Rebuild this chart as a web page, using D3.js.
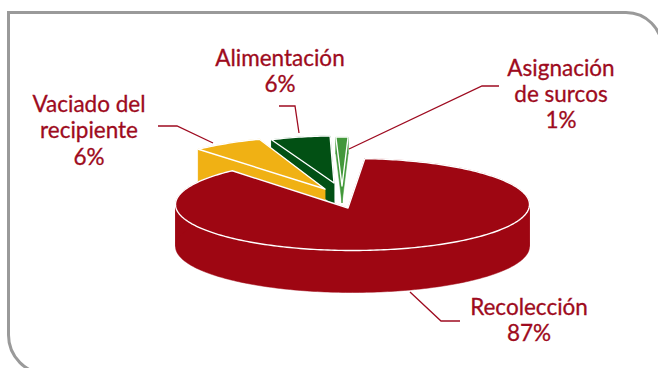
<!DOCTYPE html>
<html>
<head>
<meta charset="utf-8">
<script src="https://cdn.jsdelivr.net/npm/d3@7"></script>
<style>
  html, body { margin: 0; padding: 0; background: #fff; }
  svg { display: block; }
  text { font-family: "Lato", sans-serif; font-size: 22.5px; fill: #9E0B20; stroke: #9E0B20; stroke-width: 0.3px; text-anchor: middle; }
</style>
</head>
<body>
<svg id="chart" width="658" height="368"></svg>
<script>
// Share of working time per task
const categories = ["Recolección", "Vaciado del recipiente", "Alimentación", "Asignación de surcos"];
const shares = [87, 6, 6, 1];
const colors = ["#9E0612", "#F0B114", "#025014", "#43983B"];

// Each exploded wedge: ellipse centre, inner point, ellipse radii, rotation in degrees, wall height
const centerX = [352.5, 325, 334, 343];
const centerY = [204.5, 188, 183, 186];
const apexX = [348, 325, 334, 342];
const apexY = [208, 189, 183, 186];
const wedgeRx = [177, 190, 160, 195];
const wedgeRy = [46, 52, 47, 49];
const wedgeTurn = [0, 1, -1.8, -2.5];
const depth = [42, 42, 22, 17];
const drawOrder = [2, 3, 1, 0];

// Text blocks: lines, centre x and baselines
const labelLines = [
  ["Recolección", "87%"],
  ["Vaciado del", "recipiente", "6%"],
  ["Alimentación", "6%"],
  ["Asignación", "de surcos", "1%"]
];
const labelX = [529, 89, 280, 561];
const labelBase = [[315, 341], [112, 138, 165], [66, 92], [76, 102, 128]];
const leaders = [
  [[410, 292], [441, 321], [460, 321]],
  [[158, 126], [177, 126], [213, 143]],
  [[279, 106], [295, 106], [299, 133]],
  [[349, 149], [482, 86], [499, 86]]
];

const svg = d3.select("#chart");

// Panel outline: square top-left corner, rounded top-right and bottom-left
const frame = d3.path();
frame.moveTo(662, 48);
frame.arcTo(662, 12.5, 626, 12.5, 36);
frame.lineTo(8.5, 12.5);
frame.lineTo(8.5, 335);
frame.arcTo(8.5, 374, 47.5, 374, 39);
svg.append("path").attr("d", frame.toString())
  .attr("fill", "none").attr("stroke", "#9A9A9A").attr("stroke-width", 3);

const pie = d3.pie().sort(null).startAngle(4 * Math.PI / 180).endAngle(364 * Math.PI / 180);
const arcs = pie(shares);

const line = d3.line();
const toPts = (i, a0, a1, drop) => {
  const n = Math.max(2, Math.ceil(Math.abs(a1 - a0) / 0.02));
  return d3.range(n + 1).map(k => {
    const a = a0 + (a1 - a0) * k / n;
    return [centerX[i] + wedgeRx[i] * Math.sin(a), centerY[i] - wedgeRy[i] * Math.cos(a) + drop];
  });
};

drawOrder.forEach(i => {
  const turn = wedgeTurn[i] * Math.PI / 180;
  const a0 = arcs[i].startAngle + turn, a1 = arcs[i].endAngle + turn;
  const apex = [apexX[i], apexY[i]];
  const d = depth[i];
  const top = toPts(i, a0, a1, 0);
  const g = svg.append("g");
  const lower = p => [p[0], p[1] + d];

  // Cut faces of the wedge
  [[apex, top[0], lower(top[0]), lower(apex)],
   [apex, top[top.length - 1], lower(top[top.length - 1]), lower(apex)]].forEach(poly => {
    g.append("path").attr("d", line(poly) + "Z")
      .attr("fill", colors[i]).attr("stroke", colors[i]).attr("stroke-width", 0.5);
  });

  // Rim, split at the ellipse's left and right extremes so each strip is a simple polygon
  const breaks = [Math.PI / 2, 3 * Math.PI / 2].filter(b => b > a0 && b < a1);
  const stops = [a0, ...breaks, a1];
  d3.pairs(stops).forEach(([s, e]) => {
    const upper = toPts(i, s, e, 0);
    const under = toPts(i, s, e, d).reverse();
    g.append("path").attr("d", line(upper.concat(under)) + "Z")
      .attr("fill", colors[i]).attr("stroke", colors[i]).attr("stroke-width", 0.5);
  });

  // Upper face with a white edge
  g.append("path").attr("d", line([apex].concat(top)) + "Z")
    .attr("fill", colors[i]).attr("stroke", "#fff").attr("stroke-width", 1.4)
    .attr("stroke-linejoin", "round");
});

leaders.forEach(pts => {
  svg.append("path").attr("d", line(pts)).attr("fill", "none")
    .attr("stroke", "#9E0B20").attr("stroke-width", 1.3);
});

labelLines.forEach((lines, i) => {
  lines.forEach((t, j) => {
    svg.append("text").attr("x", labelX[i]).attr("y", labelBase[i][j]).text(t);
  });
});
</script>
</body>
</html>
